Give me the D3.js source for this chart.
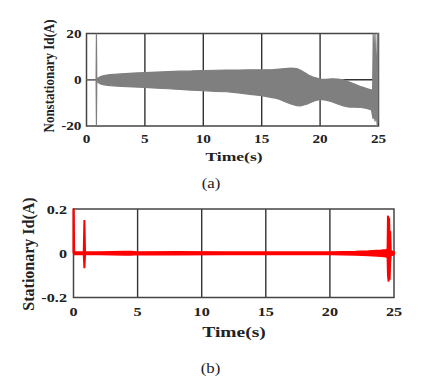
<!DOCTYPE html>
<html>
<head>
<meta charset="utf-8">
<script src="https://cdn.jsdelivr.net/npm/d3@7"></script>
<style>
  body { margin: 0; background: #fff; }
  svg { display: block; }
  text { font-family: "Liberation Serif", "Times New Roman", serif; fill: #222; }
  .bold { font-weight: bold; }
</style>
</head>
<body>
<svg id="chart" width="442" height="381"></svg>
<script>
// --- Data ---
const xTicks = [0, 5, 10, 15, 20, 25];

// (a) nonstationary Id envelope: time, upper, lower (A)
const nsTime  = [0, 0.82, 0.85, 0.88, 1.0, 1.2, 1.5, 2, 3, 4, 5, 6, 7, 8, 9, 10, 11, 12, 13, 14, 15, 16, 16.5, 17, 17.5, 18, 18.3, 18.7, 19, 19.5, 20, 20.5, 21, 21.5, 22, 22.5, 23, 23.5, 24, 24.4, 24.5, 24.55, 24.6, 24.7, 24.8, 24.9, 24.95];
const nsUpper = [0, 0, 20, 0, 0.8, 1.4, 1.8, 2.2, 2.6, 2.9, 3.1, 3.3, 3.5, 3.7, 3.8, 4.0, 4.1, 4.2, 4.2, 4.3, 4.3, 4.4, 4.6, 4.8, 5.0, 4.8, 4.2, 3.0, 2.0, 1.0, 0.3, 0.2, 0.4, 0.3, 0.0, -1.0, -2.0, -3.0, -3.8, -4.5, -4.0, 20, 5, 20, 0, 20, 20];
const nsLower = [0, 0, -20, 0, -1.2, -1.8, -2.2, -2.5, -2.9, -3.1, -3.3, -3.6, -3.9, -4.2, -4.5, -4.7, -5.0, -5.2, -5.7, -6.3, -6.9, -7.8, -8.4, -9.5, -10.5, -11.2, -11.3, -10.8, -10.3, -9.2, -8.5, -8.8, -9.5, -10.5, -11.3, -11.8, -11.9, -12.0, -12.4, -13, -16, -17, -12, -18, -15, -20, -16];
const nsYTicks = [20, 0, -20];

// (b) stationary Id envelope: time, upper, lower (A)
const stTime  = [0, 0.02, 0.05, 0.8, 0.85, 0.9, 2, 3, 4, 4.5, 5, 8, 12, 16, 20, 22, 23, 24, 24.4, 24.5, 24.53, 24.58, 24.62, 24.66, 24.7, 24.75, 25];
const stUpper = [0.2, 0.2, 0.005, 0.005, 0.15, 0.005, 0.005, 0.006, 0.007, 0.007, 0.005, 0.006, 0.005, 0.005, 0.005, 0.007, 0.009, 0.012, 0.015, 0.02, 0.17, 0.12, 0.16, 0.06, 0.1, 0.01, 0.005];
const stLower = [0, 0, -0.005, -0.005, -0.068, -0.005, -0.005, -0.006, -0.007, -0.007, -0.005, -0.006, -0.005, -0.005, -0.005, -0.007, -0.009, -0.012, -0.015, -0.02, -0.1, -0.128, -0.08, -0.12, -0.04, -0.01, -0.005];
const stYTicks = [0.2, 0, -0.2];

const svg = d3.select('#chart');

// text with horizontal stretch (the source figure is widened)
function label(g, x, y, str, o) {
    return g.append('text')
        .attr('class', o.bold ? 'bold' : null)
        .attr('transform', `translate(${x},${y}) scale(${o.sx || 1},1)` + (o.rot ? ' rotate(-90)' : ''))
        .attr('text-anchor', o.anchor || 'middle')
        .attr('dy', o.dy || null)
        .style('font-size', o.size + 'px')
        .text(str);
}

function drawPanel(cfg) {
    const x = d3.scaleLinear().domain([0, 25]).range([cfg.left, cfg.right]);
    const y = d3.scaleLinear().domain(cfg.yDomain).range([cfg.bottom, cfg.top]);
    const g = svg.append('g');

    // grid: vertical at inner x ticks, horizontal at 0
    g.selectAll('line.vgrid')
        .data(xTicks.slice(1, -1))
        .join('line')
        .attr('x1', d => x(d)).attr('x2', d => x(d))
        .attr('y1', cfg.top).attr('y2', cfg.bottom)
        .attr('stroke', '#333').attr('stroke-width', 1.4);
    g.append('line')
        .attr('x1', cfg.left).attr('x2', cfg.right)
        .attr('y1', y(0)).attr('y2', y(0))
        .attr('stroke', '#333').attr('stroke-width', 1.4);

    // frame
    g.append('rect')
        .attr('x', cfg.left).attr('y', cfg.top)
        .attr('width', cfg.right - cfg.left).attr('height', cfg.bottom - cfg.top)
        .attr('fill', 'none').attr('stroke', '#444').attr('stroke-width', 1.5);

    // signal envelope
    const pts = cfg.time.map((t, i) => ({ t, hi: cfg.upper[i], lo: cfg.lower[i] }));
    const area = d3.area()
        .x(d => x(d.t))
        .y0(d => y(d.lo))
        .y1(d => y(d.hi));
    g.append('path')
        .datum(pts)
        .attr('d', area)
        .attr('fill', cfg.color)
        .attr('stroke', cfg.color)
        .attr('stroke-width', cfg.strokeW)
        .attr('stroke-linejoin', 'bevel');

    // tick labels
    cfg.yTicks.forEach(d => label(g, cfg.left - cfg.yTickGap, y(d), d,
        { bold: true, size: cfg.tickSize, sx: cfg.tickSx, anchor: 'end', dy: '0.35em' }));
    xTicks.forEach(d => label(g, x(d), cfg.xTickY, d,
        { bold: true, size: cfg.tickSize, sx: cfg.tickSx }));

    // titles
    label(g, 234, cfg.xTitleY, 'Time(s)', { bold: true, size: cfg.xTitleSize, sx: 1.3 });
    label(g, cfg.yTitleX, cfg.yTitleMid, cfg.yTitle,
        { bold: true, size: cfg.yTitleSize, sx: cfg.yTitleSx, rot: true });
    label(g, cfg.captionX, cfg.captionY, cfg.caption, { size: 14, sx: 1.2 });
}

drawPanel({
    left: 86.5, right: 378.5, top: 33.5, bottom: 126,
    yDomain: [-20, 20], yTicks: nsYTicks,
    time: nsTime, upper: nsUpper, lower: nsLower,
    color: '#7f7f7f', strokeW: 1.2,
    tickSize: 12.5, tickSx: 1.22, yTickGap: 5,
    xTickY: 143, xTitleY: 161, xTitleSize: 13.5,
    yTitle: 'Nonstationary Id(A)', yTitleX: 54, yTitleMid: 76, yTitleSize: 13, yTitleSx: 1.1,
    captionX: 211, captionY: 188, caption: '(a)'
});

drawPanel({
    left: 73.5, right: 394, top: 209, bottom: 297.5,
    yDomain: [-0.2, 0.2], yTicks: stYTicks,
    time: stTime, upper: stUpper, lower: stLower,
    color: '#ff0000', strokeW: 2,
    tickSize: 13.5, tickSx: 1.2, yTickGap: 6.5,
    xTickY: 316, xTitleY: 337, xTitleSize: 15,
    yTitle: 'Stationary Id(A)', yTitleX: 34, yTitleMid: 254, yTitleSize: 16, yTitleSx: 1.0,
    captionX: 210.5, captionY: 373, caption: '(b)'
});
</script>
</body>
</html>
